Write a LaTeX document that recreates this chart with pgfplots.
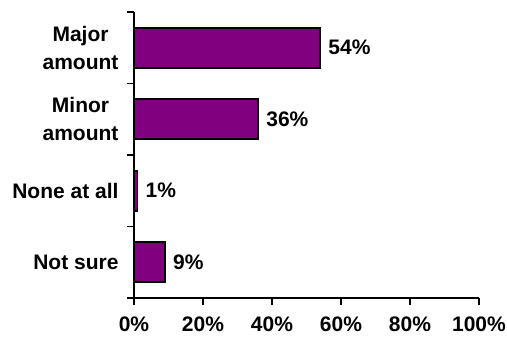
\documentclass[border=0pt]{standalone}
\usepackage{pgfplots}
\pgfplotsset{compat=1.18}
\usepackage{fontspec}
\setmainfont{Liberation Sans}
\definecolor{barpurple}{HTML}{800080}
\newcommand{\lblfont}{\fontsize{21}{28}\selectfont\bfseries}
\begin{document}
\begin{tikzpicture}
\begin{axis}[
  name=ax,
  scale only axis,
  width=345pt, height=286pt,
  xbar,
  bar width=0.56,
  xmin=0, xmax=100,
  ymin=-0.5, ymax=3.5,
  axis x line*=bottom,
  axis y line*=left,
  axis line style={line width=1.6pt},
  every tick/.style={black, line width=1.6pt},
  tick align=outside,
  major tick length=7pt,
  xtick={0,20,...,100},
  xticklabel={\pgfmathprintnumber{\tick}\%},
  xticklabel style={yshift=-8pt},
  ytick={-0.5,0.5,1.5,2.5,3.5},
  yticklabels={},
  extra y ticks={0,1,2,3},
  extra y tick labels={Not sure,None at all,{Minor\\amount},{Major\\amount}},
  extra y tick style={major tick length=0pt, yticklabel style={align=center, xshift=-12pt}},
  ticklabel style={font=\lblfont},
  /pgf/number format/assume math mode=true,
  nodes near coords={\pgfmathprintnumber{\pgfplotspointmeta}\%},
  nodes near coords style={font=\lblfont, anchor=west, xshift=4pt},
  clip=false,
]
\addplot[fill=barpurple, draw=black, line width=1.6pt] coordinates {
  (9,0) (1,1) (36,2) (54,3)
};
\end{axis}
\pgfresetboundingbox
\path (ax.south west) ++(-134pt,-45pt) rectangle ++(507pt,343pt);
\end{tikzpicture}
\end{document}
